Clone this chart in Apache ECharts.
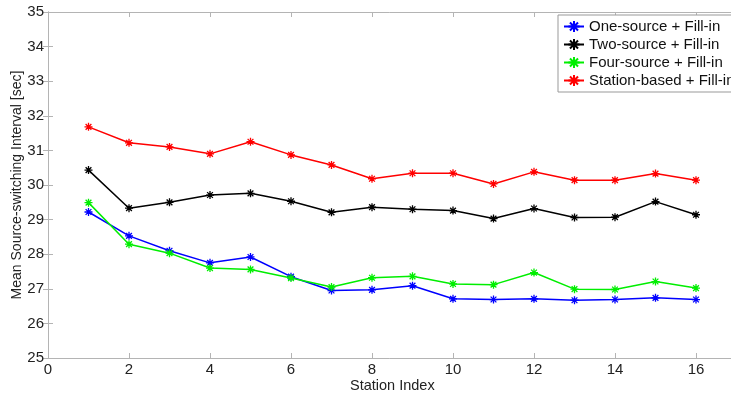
<!DOCTYPE html>
<html>
<head>
<meta charset="utf-8">
<script src="https://cdn.jsdelivr.net/npm/echarts@6/dist/echarts.min.js"></script>
<style>html,body{margin:0;padding:0;background:#fff;}#c{width:731px;height:394px;}</style>
</head>
<body>
<div id="c"></div>
<script>
var stations = [1,2,3,4,5,6,7,8,9,10,11,12,13,14,15,16];
var seriesNames = ['One-source + Fill-in','Two-source + Fill-in','Four-source + Fill-in','Station-based + Fill-in'];
var oneSource = [29.22,28.53,28.10,27.75,27.92,27.35,26.95,26.97,27.09,26.71,26.69,26.71,26.67,26.69,26.74,26.69];
var twoSource = [30.43,29.33,29.50,29.71,29.76,29.53,29.21,29.36,29.30,29.26,29.03,29.32,29.06,29.07,29.52,29.14];
var fourSource = [29.49,28.29,28.03,27.60,27.56,27.31,27.05,27.32,27.36,27.14,27.12,27.47,26.99,26.98,27.21,27.02];
var stationBased = [31.68,31.22,31.10,30.90,31.25,30.87,30.58,30.18,30.34,30.34,30.03,30.38,30.14,30.14,30.33,30.14];
var colors = ['#0000ff','#000000','#00ee00','#ff0000'];
var allData = [oneSource, twoSource, fourSource, stationBased];

var star = 'path://M0,-5L0,5M-5,0L5,0M-3.6,-3.6L3.6,3.6M-3.6,3.6L3.6,-3.6';
var axisColor = '#b4b4b4';
var font = 'Liberation Sans, Arial, sans-serif';

var chart = echarts.init(document.getElementById('c'), null, {renderer:'canvas'});
var series = allData.map(function(d, i){
  return {
    name: seriesNames[i], type:'line',
    data: d.map(function(v, k){ return [stations[k], v]; }),
    symbol: star, symbolSize: 8,
    lineStyle: {color: colors[i], width: 1.5},
    itemStyle: {color: colors[i], borderColor: colors[i], borderWidth: 1.3},
    emphasis: {disabled: true},
    z: 2 + i
  };
});
chart.setOption({
  animation: false,
  textStyle: {fontFamily: font},
  title: {text: 'Station Index', left: 350, top: 378, padding: 0,
    textStyle: {fontSize: 14.5, fontWeight: 'normal', color: '#222', fontFamily: font}},
  grid: {left: 48, top: 12, width: 729, height: 346, containLabel: false, outerBoundsMode: 'none'},
  legend: {
    orient: 'vertical', left: 558, top: 15,
    padding: [4, 60, 4, 5], itemGap: 3, itemWidth: 20, itemHeight: 14,
    backgroundColor: '#fff', borderColor: '#999', borderWidth: 1,
    textStyle: {fontSize: 15, color: '#111', fontFamily: font},
    data: seriesNames
  },
  xAxis: [{
    type:'value', min:0, max:18, interval:2, position:'bottom',
    axisLine:{show:true, lineStyle:{color:axisColor, width:1}},
    axisTick:{show:true, inside:true, length:5, lineStyle:{color:axisColor}},
    axisLabel:{fontSize:15, color:'#222', margin:4, fontFamily: font},
    splitLine:{show:false}
  },{
    type:'value', min:0, max:18, interval:2, position:'top',
    axisLine:{show:true, lineStyle:{color:axisColor, width:1}},
    axisTick:{show:true, inside:true, length:5, lineStyle:{color:axisColor}},
    axisLabel:{show:false}, splitLine:{show:false}
  }],
  yAxis: [{
    type:'value', min:25, max:35, interval:1, position:'left',
    name:'Mean Source-switching Interval [sec]', nameLocation:'middle', nameGap:24,
    nameMoveOverlap: false,
    nameTextStyle:{fontSize:14, color:'#222', fontFamily: font},
    axisLine:{show:true, lineStyle:{color:axisColor, width:1}},
    axisTick:{show:true, inside:true, length:5, lineStyle:{color:axisColor}},
    axisLabel:{fontSize:15, color:'#222', margin:4, fontFamily: font},
    splitLine:{show:false}
  },{
    type:'value', min:25, max:35, interval:1, position:'right',
    axisLine:{show:true, lineStyle:{color:axisColor, width:1}},
    axisTick:{show:true, inside:true, length:5, lineStyle:{color:axisColor}},
    axisLabel:{show:false}, splitLine:{show:false}
  }],
  series: series
});
</script>
</body>
</html>
